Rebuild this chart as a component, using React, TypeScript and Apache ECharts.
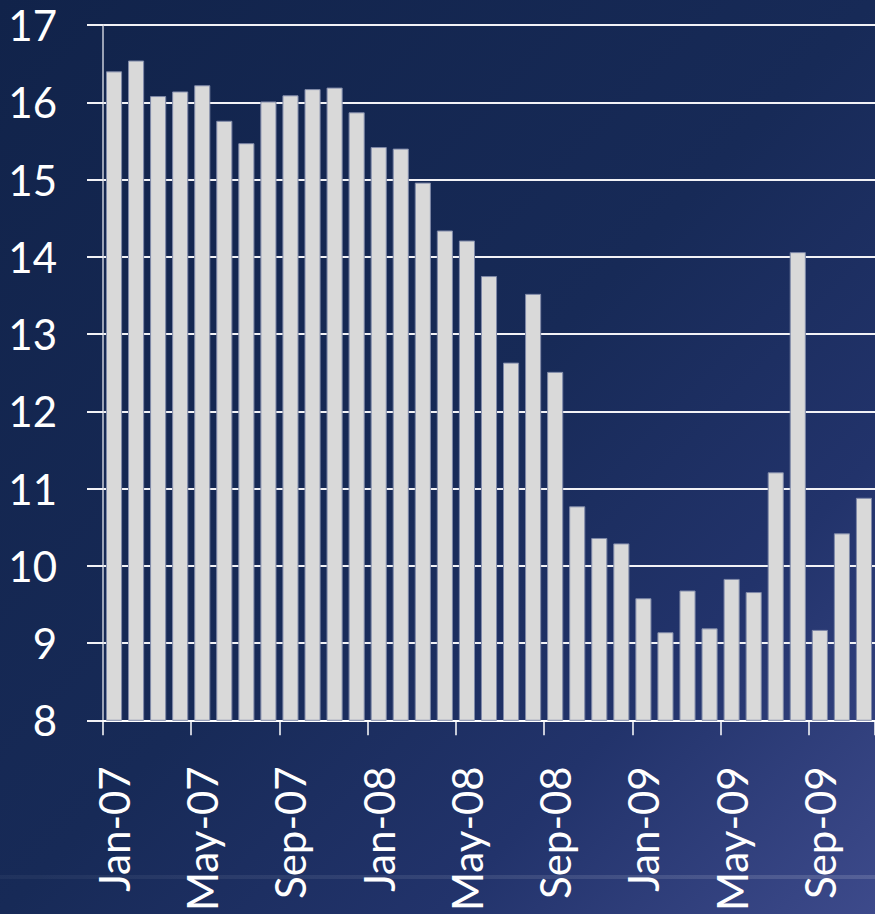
import React, { useEffect, useRef } from "react";
import * as echarts from "echarts";

const months: string[] = [
  "Jan-07", "Feb-07", "Mar-07", "Apr-07", "May-07", "Jun-07", "Jul-07", "Aug-07", "Sep-07", "Oct-07", "Nov-07", "Dec-07",
  "Jan-08", "Feb-08", "Mar-08", "Apr-08", "May-08", "Jun-08", "Jul-08", "Aug-08", "Sep-08", "Oct-08", "Nov-08", "Dec-08",
  "Jan-09", "Feb-09", "Mar-09", "Apr-09", "May-09", "Jun-09", "Jul-09", "Aug-09", "Sep-09", "Oct-09", "Nov-09",
];

const values: number[] = [
  16.4, 16.54, 16.08, 16.14, 16.22, 15.76, 15.47, 16.01, 16.09, 16.17, 16.19, 15.87,
  15.42, 15.4, 14.96, 14.34, 14.21, 13.75, 12.63, 13.52, 12.51, 10.77, 10.36, 10.29,
  9.58, 9.14, 9.68, 9.19, 9.83, 9.66, 11.21, 14.06, 9.17, 10.42, 10.88,
];

const yMin = 8;
const yMax = 17;
const yStep = 1;

const FONT = "Lato, 'Open Sans', sans-serif";

export default function App() {
  const ref = useRef<HTMLDivElement>(null);

  useEffect(() => {
    if (!ref.current) return;
    const chart = echarts.init(ref.current, undefined, { renderer: "svg" });
    chart.setOption({
      animation: false,
      backgroundColor: {
        type: "linear",
        x: 0,
        y: 0,
        x2: 1,
        y2: 1,
        colorStops: [
          { offset: 0, color: "#11234a" },
          { offset: 0.5, color: "#172a57" },
          { offset: 0.75, color: "#22336b" },
          { offset: 1, color: "#3d4a8b" },
        ],
      },
      graphic: [
        {
          type: "rect",
          z: -10,
          shape: { x: 0, y: 875, width: 875, height: 4 },
          style: {
            fill: {
              type: "linear",
              x: 0,
              y: 0,
              x2: 1,
              y2: 0,
              colorStops: [
                { offset: 0, color: "rgba(255,255,255,0.04)" },
                { offset: 1, color: "rgba(255,255,255,0.14)" },
              ],
            },
          },
          silent: true,
        },
      ],
      grid: { left: 103, top: 25, right: -4, bottom: 192, containLabel: false },
      xAxis: {
        type: "category",
        data: months,
        boundaryGap: true,
        axisLine: { show: true, lineStyle: { color: "#ffffff", width: 2 } },
        axisTick: {
          show: true,
          interval: 3,
          length: 15,
          alignWithLabel: false,
          lineStyle: { color: "#ffffff", width: 1.5 },
        },
        axisLabel: {
          interval: 3,
          rotate: 90,
          margin: 46,
          color: "#ffffff",
          fontSize: 42,
          fontFamily: FONT,
        },
        splitLine: { show: false },
      },
      yAxis: {
        type: "value",
        min: yMin,
        max: yMax,
        interval: yStep,
        axisLine: { show: true, lineStyle: { color: "#c9cdd8", width: 1.5 } },
        axisTick: { show: true, length: 16, lineStyle: { color: "#f2f2f6", width: 2 } },
        axisLabel: {
          margin: 46,
          color: "#ffffff",
          fontSize: 42,
          fontFamily: FONT,
        },
        splitLine: { show: true, lineStyle: { color: "#f2f2f6", width: 2 } },
      },
      series: [
        {
          type: "bar",
          data: values,
          barCategoryGap: "27%",
          itemStyle: { color: "#d9d9d9", borderColor: "#7f89a8", borderWidth: 1 },
          emphasis: { disabled: true },
        },
      ],
    });
    return () => chart.dispose();
  }, []);

  return (
    <div
      ref={ref}
      style={{ position: "fixed", left: 0, top: 0, width: 875, height: 914 }}
    />
  );
}
